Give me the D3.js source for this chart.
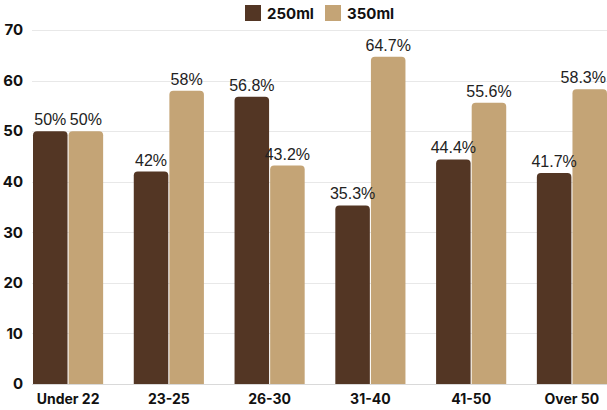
<!DOCTYPE html>
<html>
<head>
<meta charset="utf-8">
<script src="https://cdn.jsdelivr.net/npm/d3@7"></script>
<style>
  html, body { margin: 0; padding: 0; background: #fff; }
  svg { display: block; }
</style>
</head>
<body>
<svg id="chart" width="607" height="410"></svg>
<script>
// Age groups and the share choosing each cup size (%)
const categories = ["Under 22", "23-25", "26-30", "31-40", "41-50", "Over 50"];
const seriesNames = ["250ml", "350ml"];
const values250 = [50, 42, 56.8, 35.3, 44.4, 41.7];
const values350 = [50, 58, 43.2, 64.7, 55.6, 58.3];
const valueLabels250 = ["50%", "42%", "56.8%", "35.3%", "44.4%", "41.7%"];
const valueLabels350 = ["50%", "58%", "43.2%", "64.7%", "55.6%", "58.3%"];
const yTicks = [0, 10, 20, 30, 40, 50, 60, 70];

const colors = { "250ml": "#533624", "350ml": "#c4a476" };

const svg = d3.select("#chart");
const margin = { top: 30, right: 0, bottom: 26, left: 33 };
const width = 607, height = 410;

const x = d3.scaleBand()
  .domain(categories)
  .range([margin.left, width - margin.right])
  .paddingInner(0.304)
  .paddingOuter(0);

const x1 = d3.scaleBand()
  .domain(seriesNames)
  .range([0, x.bandwidth()])
  .paddingInner(0.03);

const y = d3.scaleLinear()
  .domain([0, 70])
  .range([height - margin.bottom, margin.top]);

// Horizontal grid lines
svg.append("g")
  .selectAll("line")
  .data(yTicks)
  .join("line")
  .attr("x1", margin.left - 1)
  .attr("x2", width)
  .attr("y1", d => Math.round(y(d)) + 0.5)
  .attr("y2", d => Math.round(y(d)) + 0.5)
  .attr("stroke", d => d === 0 ? "#d9d9d9" : "#e8e8e8")
  .attr("stroke-width", 1);

// Y axis labels
const yAxis = d3.axisLeft(y).tickValues(yTicks).tickSize(0).tickPadding(0);
const gy = svg.append("g")
  .attr("transform", `translate(${margin.left - 10},0)`)
  .call(yAxis);
gy.select(".domain").remove();
gy.selectAll("text")
  .attr("font-family", "Inter, 'DejaVu Sans', sans-serif")
  .attr("font-weight", 700)
  .attr("font-size", 15)
  .attr("fill", "#111");

// X axis labels
const xAxis = d3.axisBottom(x).tickSize(0).tickPadding(0);
const gx = svg.append("g")
  .attr("transform", `translate(0,${height - margin.bottom + 10})`)
  .call(xAxis);
gx.select(".domain").remove();
gx.selectAll("text")
  .attr("font-family", "Inter, 'DejaVu Sans', sans-serif")
  .attr("font-weight", 700)
  .attr("font-size", 14)
  .attr("fill", "#111");

// Bar with rounded top corners only
function topRoundedBar(x0, y0, w, h, r) {
  r = Math.min(r, w / 2, h);
  return `M${x0},${y0 + h}` +
    `V${y0 + r}` +
    `Q${x0},${y0} ${x0 + r},${y0}` +
    `H${x0 + w - r}` +
    `Q${x0 + w},${y0} ${x0 + w},${y0 + r}` +
    `V${y0 + h}Z`;
}

const rows = categories.map((c, i) => ({
  category: c,
  bars: [
    { series: "250ml", value: values250[i], label: valueLabels250[i] },
    { series: "350ml", value: values350[i], label: valueLabels350[i] }
  ]
}));

const groups = svg.append("g")
  .selectAll("g")
  .data(rows)
  .join("g")
  .attr("transform", d => `translate(${x(d.category)},0)`);

groups.selectAll("path")
  .data(d => d.bars)
  .join("path")
  .attr("d", d => topRoundedBar(x1(d.series), y(d.value), x1.bandwidth(), y(0) - y(d.value), 4))
  .attr("fill", d => colors[d.series]);

groups.selectAll("text")
  .data(d => d.bars)
  .join("text")
  .attr("x", d => x1(d.series) + x1.bandwidth() / 2)
  .attr("y", d => y(d.value) - 6)
  .attr("text-anchor", "middle")
  .attr("font-family", "'Liberation Sans', Arial, sans-serif")
  .attr("font-size", 16)
  .attr("fill", "#222")
  .text(d => d.label)
  .each(function (d) {
    // keep labels inside the right edge of the chart
    const parentRow = d3.select(this.parentNode).datum();
    const cx = x(parentRow.category) + x1(d.series) + x1.bandwidth() / 2;
    const half = this.getComputedTextLength() / 2;
    const overflow = cx + half - (width - 1);
    if (overflow > 0) d3.select(this).attr("x", x1(d.series) + x1.bandwidth() / 2 - overflow);
  });

// Legend
const legendItems = [
  { name: "250ml", x: 245 },
  { name: "350ml", x: 325 }
];
const legend = svg.append("g");
legend.selectAll("rect")
  .data(legendItems)
  .join("rect")
  .attr("x", d => d.x)
  .attr("y", 5)
  .attr("width", 16)
  .attr("height", 16)
  .attr("fill", d => colors[d.name]);
legend.selectAll("text")
  .data(legendItems)
  .join("text")
  .attr("x", d => d.x + 22)
  .attr("y", 18.5)
  .attr("font-family", "Inter, 'DejaVu Sans', sans-serif")
  .attr("font-weight", 700)
  .attr("font-size", 15)
  .attr("fill", "#111")
  .text(d => d.name);
</script>
</body>
</html>
